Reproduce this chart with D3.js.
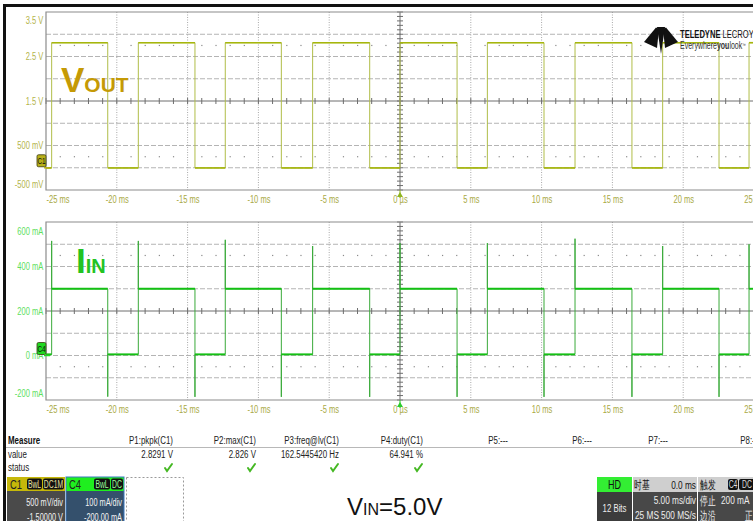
<!DOCTYPE html>
<html><head><meta charset="utf-8">
<script src="https://cdn.jsdelivr.net/npm/d3@7"></script>
<style>
html,body{margin:0;padding:0;background:#fff;}
svg{display:block;}
text{font-family:"Liberation Sans",Arial,sans-serif;}
</style></head><body>
<svg id="scope" width="753" height="521"></svg>
<script>
// ---- time axis (ms), shared by both grids ----
const timeTicks = [-25, -20, -15, -10, -5, 0, 5, 10, 15, 20, 25];
const timeTickLabels = ["-25 ms", "-20 ms", "-15 ms", "-10 ms", "-5 ms", "0 µs", "5 ms", "10 ms", "15 ms", "20 ms", "25 ms"];

// ---- C1 : output voltage (V) ----
const voutTicks = [3.5, 2.5, 1.5, 0.5, -0.5];
const voutTickLabels = ["3.5 V", "2.5 V", "1.5 V", "500 mV", "-500 mV"];

// ---- C4 : input current (mA) ----
const iinTicks = [600, 400, 200, 0, -200];
const iinTickLabels = ["600 mA", "400 mA", "200 mA", "0 mA", "-200 mA"];

// switching edges of the load (ms)
const riseTimes = [-24.60, -18.48, -12.34, -6.17, 0.00, 6.17, 12.36, 18.55, 24.65];
const fallTimes = [-20.64, -14.48, -8.38, -2.14, 4.03, 10.17, 16.38, 22.53];

// levels
const voutHigh = 2.81, voutLow = -0.004;       // V
const iinHigh = 300, iinLow = 5;               // mA
const iinSpikeUp = [515, 515, 520, 492, 505, 505, 525, 492, 500];     // mA peak at each rising edge
const iinSpikeDown = [-185, -186, -186, -186, -186, -186, -186, -186]; // mA dip at each falling edge

// measurement table
const measureHeaders = ["P1:pkpk(C1)", "P2:max(C1)", "P3:freq@lv(C1)", "P4:duty(C1)", "P5:---", "P6:---", "P7:---", "P8:---"];
const measureValues = ["2.8291 V", "2.826 V", "162.5445420 Hz", "64.941 %", "", "", "", ""];
const measureOk = [true, true, true, true, false, false, false, false];
const measureRight = [173, 256, 339, 423, 508, 592, 668, 760];

const svg = d3.select("#scope");
const W = 753, H = 521;
const NARROW = 0.72;   // condensed instrument font

const x = d3.scaleLinear().domain([-25, 25]).range([46, 754]);
const yV = d3.scaleLinear().domain([-0.5, 3.5]).range([190, 12]);
const yI = d3.scaleLinear().domain([-200, 600]).range([400, 222]);

// condensed text helper
function txt(parent, px, py, s, o = {}) {
  const t = parent.append("text")
    .attr("transform", `translate(${px},${py}) scale(${o.k || NARROW},1)`)
    .attr("font-size", o.size || 11)
    .attr("fill", o.fill || "#222")
    .attr("text-anchor", o.anchor || "start");
  if (o.weight) t.attr("font-weight", o.weight);
  if (o.family) t.attr("font-family", o.family);
  if (s !== null) t.text(s);
  return t;
}

// outer frame
svg.append("rect").attr("x", 0).attr("y", 0).attr("width", W).attr("height", H).attr("fill", "#fff");
svg.append("rect").attr("x", 3).attr("y", 4).attr("width", W).attr("height", 3).attr("fill", "#111");
svg.append("rect").attr("x", 3).attr("y", 4).attr("width", 3).attr("height", H).attr("fill", "#111");

const gridDash = "#b4b4b4", axisCol = "#6e6e6e";

function drawGrid(y, lo, hi, labelTicks, labels, labelColor, shiftTop, shiftBot) {
  const g = svg.append("g");
  const [yb, yt] = y.range();
  const step = (hi - lo) / 8;
  const centre = (hi + lo) / 2;
  // horizontal division lines
  const divs = d3.range(1, 8).map(i => lo + i * step);
  g.selectAll("line.h").data(divs).join("line")
    .attr("x1", 46).attr("x2", W).attr("y1", d => y(d)).attr("y2", d => y(d))
    .attr("stroke", d => d === centre ? axisCol : gridDash)
    .attr("stroke-width", 1)
    .attr("stroke-dasharray", d => d === centre ? null : "5,2");
  // vertical division lines
  g.selectAll("line.v").data(timeTicks.slice(1)).join("line")
    .attr("x1", d => x(d)).attr("x2", d => x(d)).attr("y1", yt).attr("y2", yb)
    .attr("stroke", d => d === 0 ? axisCol : "#a8a8a8")
    .attr("stroke-width", 1)
    .attr("stroke-dasharray", d => d === 0 ? null : "1,1.5");
  // minor ticks on the centre cross
  const minorT = d3.range(-25, 25.01, 1);
  g.selectAll("line.mt").data(minorT).join("line")
    .attr("x1", d => x(d)).attr("x2", d => x(d))
    .attr("y1", y(centre) - 3).attr("y2", y(centre) + 3)
    .attr("stroke", axisCol).attr("stroke-width", 1);
  const minorV = d3.range(lo, hi + step / 10, step / 5);
  g.selectAll("line.mv").data(minorV).join("line")
    .attr("x1", x(0) - 3).attr("x2", x(0) + 3)
    .attr("y1", d => y(d)).attr("y2", d => y(d))
    .attr("stroke", axisCol).attr("stroke-width", 1);
  // dotted rows at +/- 2.5 divisions
  [centre + 2.5 * step, centre - 2.5 * step].forEach(v => {
    g.selectAll(null).data(minorT.filter(t => t % 5 !== 0)).join("rect")
      .attr("x", d => x(d) - 0.5).attr("y", y(v) - 0.5).attr("width", 1.2).attr("height", 1.2)
      .attr("fill", "#8a8a8a");
  });
  // frame
  g.append("path").attr("d", `M${W + 2},${yt}H46V${yb}H${W + 2}`)
    .attr("fill", "none").attr("stroke", "#8c8c8c").attr("stroke-width", 1.2);

  // vertical axis labels
  const ax = svg.append("g").attr("transform", "translate(44,0)")
    .call(d3.axisLeft(y).tickValues(labelTicks).tickFormat((d, i) => labels[i]).tickSize(0).tickPadding(1));
  ax.select(".domain").remove();
  ax.selectAll("text").attr("fill", labelColor).attr("font-size", 10.5)
    .attr("font-family", '"Liberation Sans",Arial,sans-serif')
    .attr("transform", `scale(${NARROW},1)`)
    .attr("dy", (d, i) => i === 0 ? `${0.32 + shiftTop / 10.5}em` : i === labelTicks.length - 1 ? `${0.32 - shiftBot / 10.5}em` : "0.32em");

  // time labels
  const tx = svg.append("g").attr("transform", `translate(0,${yb + 4})`)
    .call(d3.axisBottom(x).tickValues(timeTicks).tickFormat((d, i) => timeTickLabels[i]).tickSize(0).tickPadding(2));
  tx.select(".domain").remove();
  tx.selectAll("text").attr("fill", "#a9a945").attr("font-size", 10.5)
    .attr("font-family", '"Liberation Sans",Arial,sans-serif')
    .attr("transform", `scale(${NARROW},1)`)
    .attr("text-anchor", d => d === -25 ? "start" : "middle");
  return g;
}

drawGrid(yV, -0.5, 3.5, voutTicks, voutTickLabels, "#b4b44c", 8, 6);
drawGrid(yI, -200, 600, iinTicks, iinTickLabels, "#5ee05e", 9, 7);

// ---- traces ----
const edges = riseTimes.map((t, i) => ({ t, up: true, i }))
  .concat(fallTimes.map((t, i) => ({ t, up: false, i })))
  .sort((a, b) => a.t - b.t);

const voutPts = [[-25, voutLow]];
const iinPts = [[-25, iinLow]];
const voutFlat = [], iinFlat = [];
let vStart = -25, vLevel = voutLow, iLevel = iinLow;
edges.forEach(e => {
  voutFlat.push([vStart, e.t, vLevel]);
  iinFlat.push([vStart, e.t, iLevel]);
  if (e.up) {
    voutPts.push([e.t, voutLow], [e.t, voutHigh]);
    iinPts.push([e.t, iinLow], [e.t, iinSpikeUp[e.i]], [e.t, iinHigh]);
    vLevel = voutHigh; iLevel = iinHigh;
  } else {
    voutPts.push([e.t, voutHigh], [e.t, voutLow]);
    iinPts.push([e.t, iinHigh], [e.t, iinSpikeDown[e.i]], [e.t, iinLow]);
    vLevel = voutLow; iLevel = iinLow;
  }
  vStart = e.t;
});
voutPts.push([25.5, vLevel]);
iinPts.push([25.5, iLevel]);
voutFlat.push([vStart, 25.5, vLevel]);
iinFlat.push([vStart, 25.5, iLevel]);

const clipV = svg.append("clipPath").attr("id", "clipV");
clipV.append("rect").attr("x", 46).attr("y", 12).attr("width", W).attr("height", 178);
const clipI = svg.append("clipPath").attr("id", "clipI");
clipI.append("rect").attr("x", 46).attr("y", 222).attr("width", W).attr("height", 178);

const lineV = d3.line().x(d => x(d[0])).y(d => yV(d[1]));
const lineI = d3.line().x(d => x(d[0])).y(d => yI(d[1]));

const gV = svg.append("g").attr("clip-path", "url(#clipV)");
gV.append("path").attr("d", lineV(voutPts)).attr("fill", "none")
  .attr("stroke", "#b0bd48").attr("stroke-width", 1);
gV.selectAll("line.flat").data(voutFlat).join("line")
  .attr("x1", d => x(d[0])).attr("x2", d => x(d[1])).attr("y1", d => yV(d[2])).attr("y2", d => yV(d[2]))
  .attr("stroke", "#a6b60c").attr("stroke-width", 1.6);

const gI = svg.append("g").attr("clip-path", "url(#clipI)");
gI.append("path").attr("d", lineI(iinPts)).attr("fill", "none")
  .attr("stroke", "#3aaa3a").attr("stroke-width", 1);
gI.selectAll("line.flat").data(iinFlat).join("line")
  .attr("x1", d => x(d[0])).attr("x2", d => x(d[1])).attr("y1", d => yI(d[2])).attr("y2", d => yI(d[2]))
  .attr("stroke", "#14c014").attr("stroke-width", 1.9);

// trigger markers at t = 0
[[190, "#8fb520"], [400, "#2ccc2c"]].forEach(([yb, c]) => {
  svg.append("line").attr("x1", x(0)).attr("x2", x(0)).attr("y1", yb).attr("y2", yb + 8)
    .attr("stroke", c).attr("stroke-width", 1);
  svg.append("path").attr("d", `M${x(0)},${yb + 2}l-3,5h6z`).attr("fill", c);
});

// channel ground markers
function chanMarker(y0, label, fill) {
  const g = svg.append("g");
  g.append("rect").attr("x", 37).attr("y", y0 - 13).attr("width", 9).attr("height", 12)
    .attr("rx", 1.5).attr("fill", fill).attr("stroke", "#3a3a10").attr("stroke-width", 0.8);
  txt(g, 41.5, y0 - 4, label, { size: 8.5, fill: "#111", anchor: "middle", k: 0.75 });
  g.append("line").attr("x1", 44).attr("x2", 50).attr("y1", y0).attr("y2", y0)
    .attr("stroke", fill).attr("stroke-width", 1.5);
}
chanMarker(yV(0), "C1", "#b8b018");
chanMarker(yI(0), "C4", "#20d820");

// trace names
const vName = svg.append("text").attr("x", 61).attr("y", 92).attr("fill", "#c59a05")
  .attr("font-family", '"Liberation Sans",Arial,sans-serif').attr("font-weight", "bold");
vName.append("tspan").attr("font-size", 35).text("V");
vName.append("tspan").attr("font-size", 21).text("OUT");
const iName = svg.append("text").attr("x", 76).attr("y", 273).attr("fill", "#22c322")
  .attr("font-family", '"Liberation Sans",Arial,sans-serif').attr("font-weight", "bold");
iName.append("tspan").attr("font-size", 35).text("I");
iName.append("tspan").attr("font-size", 20).text("IN");

// brand mark
const logo = svg.append("g").attr("fill", "#111");
logo.append("path").attr("d", "M644,42L656,27.5L659,29L657,48Z");
logo.append("path").attr("d", "M678,42L666,27.5L663,29L665,48Z");
logo.append("path").attr("d", "M657,27H665L661,54Z");
const brand = txt(svg, 680, 38, null, { size: 11.5, fill: "#111", k: 0.66 });
brand.append("tspan").attr("font-weight", "bold").text("TELEDYNE");
brand.append("tspan").text(" LECROY");
const tag = txt(svg, 680, 49, null, { size: 10, fill: "#333", k: 0.7 });
tag.append("tspan").text("Everywhere");
tag.append("tspan").attr("font-weight", "bold").text("you");
tag.append("tspan").text("look");
tag.append("tspan").attr("font-size", 5).attr("dy", -2.5).text("™");

// ---- measurement table ----
txt(svg, 8, 444, "Measure", { size: 11, weight: "bold", fill: "#111" });
txt(svg, 8, 458, "value", { size: 11 });
txt(svg, 8, 471, "status", { size: 11 });
svg.append("line").attr("x1", 6).attr("x2", W).attr("y1", 447.5).attr("y2", 447.5)
  .attr("stroke", "#b8b8b8").attr("stroke-width", 1);
measureHeaders.forEach((h, i) => txt(svg, measureRight[i], 444, h, { size: 11, anchor: "end" }));
measureValues.forEach((v, i) => { if (v) txt(svg, measureRight[i], 458, v, { size: 11, anchor: "end" }); });
svg.selectAll("path.ok").data(measureOk.map((ok, i) => ok ? i : -1).filter(i => i >= 0)).join("path")
  .attr("d", i => { const cx = measureRight[i] - 5; return `M${cx - 3},${468}l2,3l5,-7`; })
  .attr("fill", "none").attr("stroke", "#45b823").attr("stroke-width", 2).attr("stroke-linecap", "round");

// ---- channel descriptor boxes ----
function tagBox(xp, w, y, label, col) {
  svg.append("rect").attr("x", xp).attr("y", y).attr("width", w).attr("height", 11).attr("rx", 2).attr("fill", "#111");
  txt(svg, xp + w / 2, y + 9, label, { size: 10, fill: col, anchor: "middle", k: 0.68 });
}
// C1
svg.append("rect").attr("x", 7).attr("y", 477).attr("width", 58).attr("height", 14).attr("fill", "#c6b80a");
svg.append("rect").attr("x", 7).attr("y", 491).attr("width", 58).attr("height", 30).attr("fill", "#4a4a4a");
txt(svg, 10, 489, "C1", { size: 12.5, fill: "#222", k: 0.75 });
tagBox(27, 15, 478.5, "BwL", "#e8e0a0");
tagBox(43, 21, 478.5, "DC1M", "#e8e0a0");
txt(svg, 63, 506, "500 mV/div", { size: 11.5, fill: "#f2f2f2", anchor: "end", k: 0.64 });
txt(svg, 63, 521, "-1.50000 V", { size: 11.5, fill: "#f2f2f2", anchor: "end", k: 0.64 });
// C4
svg.append("rect").attr("x", 66).attr("y", 477).attr("width", 58).attr("height", 14).attr("fill", "#1fef1f");
svg.append("rect").attr("x", 66).attr("y", 491).attr("width", 58).attr("height", 30).attr("fill", "#34506c");
svg.append("rect").attr("x", 66).attr("y", 477).attr("width", 58).attr("height", 46).attr("fill", "none").attr("stroke", "#3a78c0").attr("stroke-width", 1);
txt(svg, 69, 489, "C4", { size: 12.5, fill: "#222", k: 0.75 });
tagBox(94, 16, 478.5, "BwL", "#9cff9c");
tagBox(111, 12, 478.5, "DC", "#9cff9c");
txt(svg, 122, 506, "100 mA/div", { size: 11.5, fill: "#f2f2f2", anchor: "end", k: 0.64 });
txt(svg, 122, 521, "-200.00 mA", { size: 11.5, fill: "#f2f2f2", anchor: "end", k: 0.64 });
// empty slot
svg.append("rect").attr("x", 126.5).attr("y", 477.5).attr("width", 57).attr("height", 48).attr("fill", "none")
  .attr("stroke", "#9a9a9a").attr("stroke-dasharray", "2,2");

// supply voltage
const vin = svg.append("text").attr("x", 347).attr("y", 515).attr("fill", "#111")
  .attr("font-family", '"Liberation Sans",Arial,sans-serif');
vin.append("tspan").attr("font-size", 24).text("V");
vin.append("tspan").attr("font-size", 16).text("IN");
vin.append("tspan").attr("font-size", 24).text("=5.0V");

// ---- acquisition boxes ----
const cjk = '"Noto Sans CJK SC",sans-serif';
svg.append("rect").attr("x", 597).attr("y", 477).attr("width", 35).attr("height", 15).attr("fill", "#33ee33");
svg.append("rect").attr("x", 597).attr("y", 492).attr("width", 35).attr("height", 29).attr("fill", "#3c3c3c");
txt(svg, 614.5, 489, "HD", { size: 12, fill: "#111", anchor: "middle", k: 0.75 });
txt(svg, 614.5, 512, "12 Bits", { size: 11.5, fill: "#eee", anchor: "middle", k: 0.68 });

svg.append("rect").attr("x", 633).attr("y", 477).attr("width", 64).attr("height", 15).attr("fill", "#cfcfcf");
svg.append("rect").attr("x", 633).attr("y", 492).attr("width", 64).attr("height", 29).attr("fill", "#484848");
txt(svg, 634, 489, "时基", { size: 11.5, fill: "#111", family: cjk, k: 0.64 });
txt(svg, 696, 489, "0.0 ms", { size: 11.5, fill: "#111", anchor: "end", k: 0.72 });
txt(svg, 696, 504, "5.00 ms/div", { size: 11.5, fill: "#eee", anchor: "end", k: 0.72 });
txt(svg, 635, 519, "25 MS", { size: 11.5, fill: "#eee", k: 0.72 });
txt(svg, 696, 519, "500 MS/s", { size: 11.5, fill: "#eee", anchor: "end", k: 0.72 });

svg.append("rect").attr("x", 698).attr("y", 477).attr("width", 60).attr("height", 15).attr("fill", "#cfcfcf");
svg.append("rect").attr("x", 698).attr("y", 492).attr("width", 60).attr("height", 29).attr("fill", "#484848");
txt(svg, 700, 489, "触发", { size: 11.5, fill: "#111", family: cjk, k: 0.64 });
tagBox(728, 10, 479, "C4", "#ddd");
tagBox(739, 16, 479, "DC", "#ddd");
txt(svg, 700, 505, "停止", { size: 11.5, fill: "#eee", family: cjk, k: 0.64 });
txt(svg, 721, 504, "200 mA", { size: 11.5, fill: "#eee", k: 0.72 });
txt(svg, 700, 520, "边沿", { size: 11.5, fill: "#eee", family: cjk, k: 0.64 });
txt(svg, 745, 520, "正", { size: 11.5, fill: "#eee", family: cjk, k: 0.64 });
</script>
</body></html>
